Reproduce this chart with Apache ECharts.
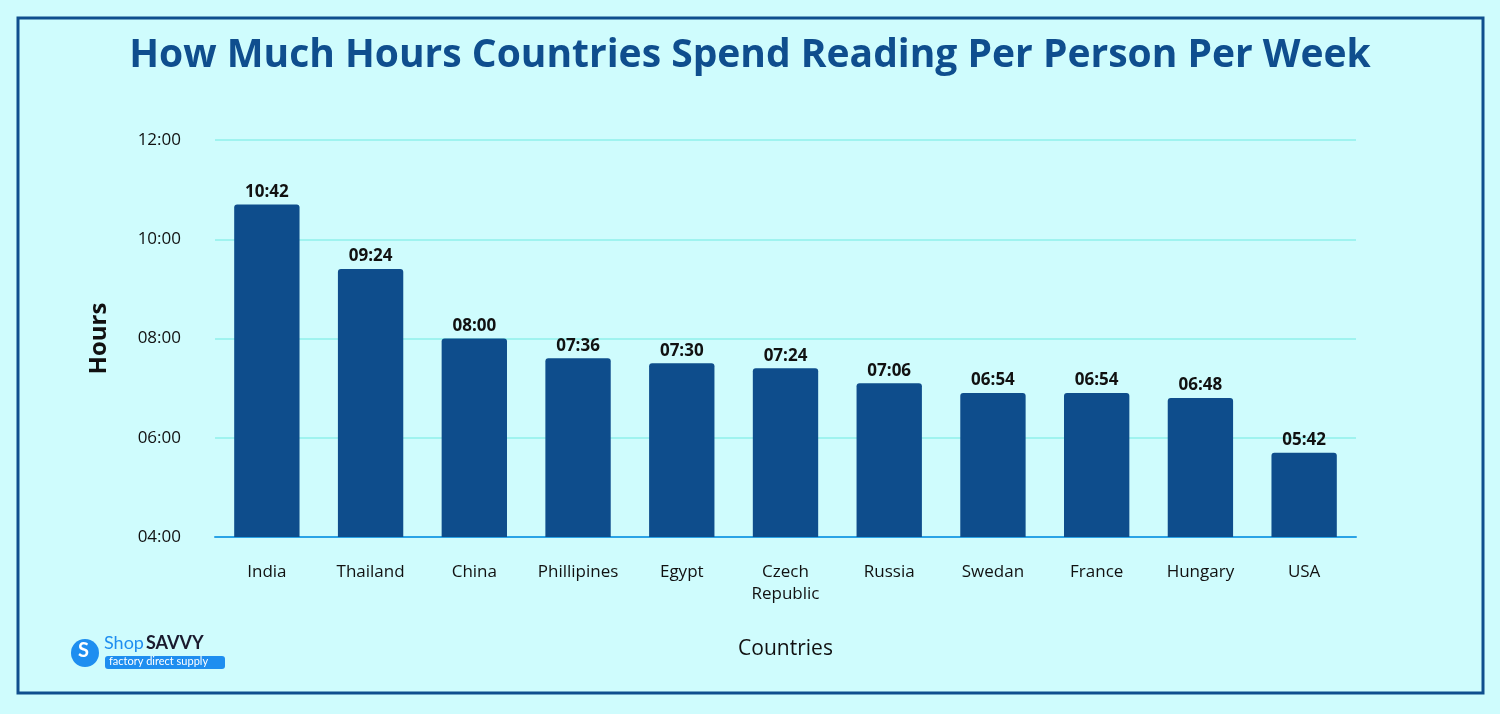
<!DOCTYPE html>
<html>
<head>
<meta charset="UTF-8">
<title>Reading hours</title>
<style>
  html, body { margin: 0; padding: 0; background: #cffcfd; }
  #container { width: 1500px; height: 714px; }
</style>
</head>
<body>
<div id="container"></div>
<script src="https://cdn.jsdelivr.net/npm/echarts@6/dist/echarts.min.js"></script>
<script>
var countries = ['India', 'Thailand', 'China', 'Phillipines', 'Egypt', 'Czech\nRepublic', 'Russia', 'Swedan', 'France', 'Hungary', 'USA'];
// minutes per week
var minutes = [642, 564, 480, 456, 450, 444, 426, 414, 414, 408, 342];
var yTicks = [240, 360, 480, 600, 720];

function hhmm(m) {
    var h = Math.floor(m / 60), mm = Math.round(m % 60);
    return (h < 10 ? '0' : '') + h + ':' + (mm < 10 ? '0' : '') + mm;
}

var myChart = echarts.init(document.getElementById('container'));
myChart.setOption({
    backgroundColor: '#cffcfd',
    title: {
        text: 'How Much Hours Countries Spend Reading Per Person Per Week',
        left: 'center', top: 31,
        textStyle: { color: '#0f4e8e', fontSize: 39, fontWeight: 'bold', fontFamily: 'Open Sans' }
    },
    graphic: [
        { type: 'rect', shape: { x: 18, y: 18, width: 1465, height: 675 },
          style: { fill: 'none', stroke: '#0f4e8e', lineWidth: 3 } },
        { type: 'circle', shape: { cx: 85, cy: 653, r: 14 }, style: { fill: '#1e8ef0' } },
        { type: 'text', left: 78, top: 641, style: { text: 'S', fill: '#fff', font: 'bold 20px Lato' } },
        { type: 'text', left: 104, top: 634, style: { text: 'Shop', fill: '#1e8ef0', font: '18px Lato' } },
        { type: 'text', left: 146, top: 634, style: { text: 'SAVVY', fill: '#1a1a2e', font: 'bold 18px Lato' } },
        { type: 'rect', shape: { x: 105, y: 656, width: 120, height: 13, r: 3 }, style: { fill: '#1e8ef0' } },
        { type: 'text', left: 109, top: 656, style: { text: 'factory direct supply', fill: '#fff', font: '11px Lato' } }
    ],
    grid: { left: 215, right: 144, top: 140, bottom: 177 },
    xAxis: {
        type: 'category',
        data: countries,
        name: 'Countries',
        nameLocation: 'middle',
        nameGap: 102,
        nameTextStyle: { color: '#111', fontSize: 21, fontFamily: 'Open Sans' },
        axisLine: { lineStyle: { color: '#2aa3e6', width: 2 } },
        axisTick: { show: false },
        axisLabel: { interval: 0, color: '#111', fontSize: 17, margin: 24, lineHeight: 22, fontFamily: 'Open Sans' }
    },
    yAxis: {
        type: 'value',
        min: 240, max: 720, interval: 120,
        name: 'Hours',
        nameLocation: 'middle',
        nameGap: 104,
        nameTextStyle: { color: '#111', fontSize: 24, fontWeight: 'bold', fontFamily: 'Open Sans' },
        axisLabel: { color: '#111', fontSize: 17, margin: 34, fontFamily: 'Open Sans', formatter: hhmm },
        splitLine: { lineStyle: { color: '#8ff0ea', width: 1.5 } },
        axisLine: { show: false }, axisTick: { show: false }
    },
    series: [{
        type: 'bar',
        data: minutes,
        barWidth: '63%',
        itemStyle: { color: '#0e4d8c', borderRadius: [3, 3, 0, 0] },
        label: {
            show: true, position: 'top', distance: 4,
            color: '#111', fontSize: 17, fontWeight: 'bold', fontFamily: 'Open Sans',
            formatter: function (p) { return hhmm(p.value); }
        }
    }]
});
</script>
</body>
</html>
